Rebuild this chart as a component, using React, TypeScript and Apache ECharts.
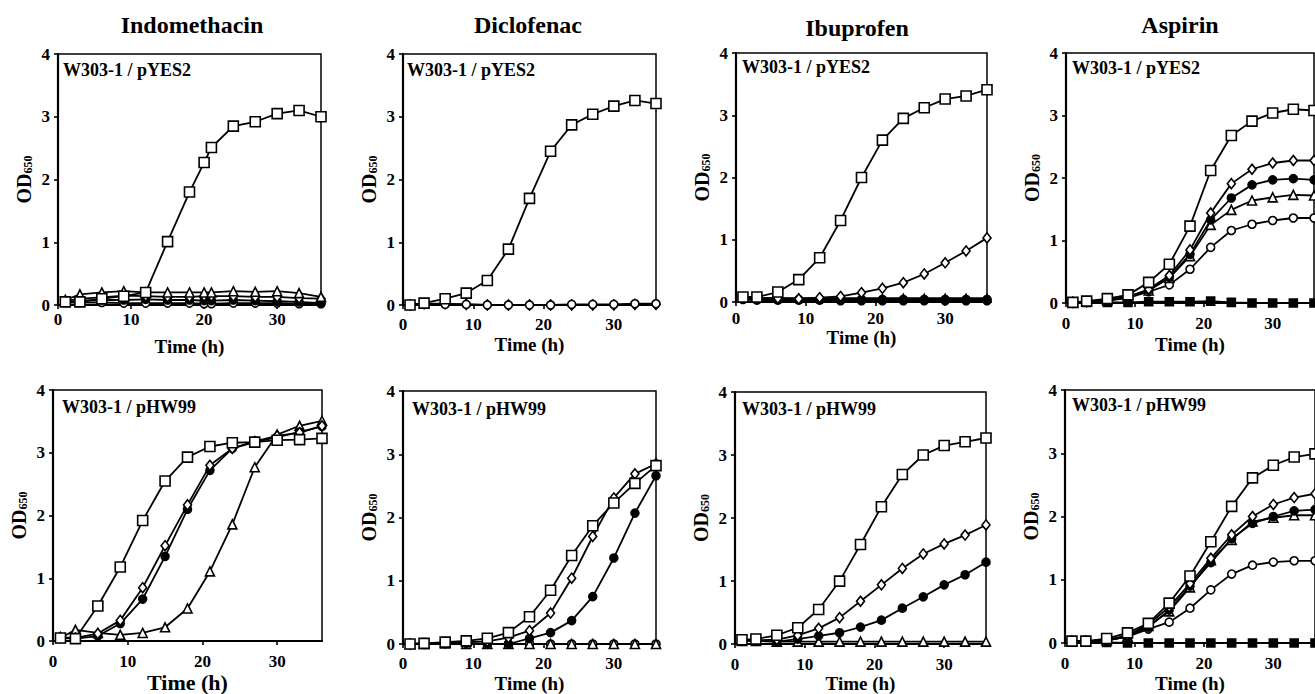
import { useEffect, useRef } from "react";
import * as echarts from "echarts";

// ---------- data ----------
const TIMES = [1, 3, 6, 9, 12, 15, 18, 21, 24, 27, 30, 33, 36];
const TIMES_INDO_YES = [1, 3, 6, 9, 12, 15, 18, 20, 21, 24, 27, 30, 33, 36];
const X_MIN = 0;
const X_MAX = 36;
const X_INTERVAL = 10;
const Y_MIN = 0;
const Y_MAX = 4;
const Y_INTERVAL = 1;

const DRUGS = ["Indomethacin", "Diclofenac", "Ibuprofen", "Aspirin"];
const STRAINS = ["W303-1 / pYES2", "W303-1 / pHW99"];
const X_NAME = "Time (h)";

// Indomethacin / pYES2
const indoYesSquare = [0.05, 0.05, 0.1, 0.14, 0.2, 1.01, 1.8, 2.27, 2.51, 2.85, 2.92, 3.05, 3.1, 3.0];
const indoYesTriangle = [0.08, 0.17, 0.2, 0.22, 0.2, 0.2, 0.2, 0.2, 0.2, 0.22, 0.21, 0.22, 0.19, 0.13];
const indoYesDiamond = [0.06, 0.1, 0.12, 0.15, 0.14, 0.13, 0.13, 0.14, 0.14, 0.14, 0.13, 0.13, 0.11, 0.1];
const indoYesDot = [0.05, 0.07, 0.08, 0.08, 0.09, 0.08, 0.08, 0.07, 0.07, 0.08, 0.07, 0.06, 0.05, 0.03];
const indoYesCircle = [0.04, 0.04, 0.04, 0.03, 0.03, 0.03, 0.03, 0.02, 0.02, 0.03, 0.03, 0.03, 0.02, 0.02];

// Diclofenac / pYES2
const dicloYesSquare = [0.0, 0.03, 0.1, 0.19, 0.39, 0.89, 1.7, 2.45, 2.87, 3.04, 3.17, 3.26, 3.21];
const dicloYesCircle = [0.0, 0.02, 0.01, 0.01, 0.0, 0.0, 0.0, 0.0, 0.01, 0.01, 0.01, 0.02, 0.02];
const dicloYesDiamond = [0.0, 0.02, 0.02, 0.01, 0.0, 0.0, 0.0, 0.0, 0.0, 0.0, 0.0, 0.01, 0.01];

// Ibuprofen / pYES2
const ibuYesSquare = [0.08, 0.08, 0.16, 0.36, 0.71, 1.31, 2.0, 2.6, 2.95, 3.12, 3.26, 3.31, 3.41];
const ibuYesDiamond = [0.07, 0.06, 0.06, 0.05, 0.07, 0.09, 0.15, 0.22, 0.31, 0.45, 0.63, 0.82, 1.03];
const ibuYesFilledTriangle = [0.06, 0.06, 0.06, 0.06, 0.06, 0.06, 0.06, 0.06, 0.06, 0.06, 0.06, 0.06, 0.06];
const ibuYesDot = [0.05, 0.05, 0.04, 0.04, 0.04, 0.04, 0.04, 0.04, 0.04, 0.04, 0.04, 0.04, 0.04];
const ibuYesCircle = [0.04, 0.03, 0.03, 0.03, 0.03, 0.02, 0.02, 0.02, 0.02, 0.02, 0.02, 0.02, 0.02];

// Aspirin / pYES2
const aspYesSquare = [0.01, 0.03, 0.07, 0.13, 0.33, 0.62, 1.23, 2.12, 2.68, 2.91, 3.04, 3.1, 3.08];
const aspYesDiamond = [0.01, 0.02, 0.04, 0.1, 0.22, 0.44, 0.85, 1.44, 1.91, 2.14, 2.24, 2.28, 2.28];
const aspYesDot = [0.01, 0.02, 0.04, 0.1, 0.21, 0.41, 0.78, 1.33, 1.68, 1.89, 1.97, 1.99, 1.97];
const aspYesTriangle = [0.01, 0.02, 0.04, 0.1, 0.2, 0.4, 0.75, 1.25, 1.49, 1.64, 1.69, 1.73, 1.72];
const aspYesCircle = [0.01, 0.02, 0.04, 0.08, 0.18, 0.29, 0.54, 0.89, 1.16, 1.26, 1.32, 1.36, 1.36];
const aspYesFilledSquare = [0.01, 0.01, 0.01, 0.01, 0.02, 0.02, 0.02, 0.03, 0.01, 0.0, 0.0, 0.0, 0.0];

// Indomethacin / pHW99
const indoHwSquare = [0.05, 0.04, 0.56, 1.18, 1.92, 2.55, 2.93, 3.1, 3.16, 3.17, 3.2, 3.21, 3.23];
const indoHwDiamond = [0.06, 0.05, 0.12, 0.33, 0.85, 1.52, 2.17, 2.8, 3.07, 3.18, 3.27, 3.32, 3.43];
const indoHwDot = [0.05, 0.04, 0.08, 0.28, 0.67, 1.35, 2.1, 2.72, 3.07, 3.17, 3.25, 3.33, 3.42];
const indoHwTriangle = [0.05, 0.18, 0.13, 0.1, 0.13, 0.22, 0.52, 1.11, 1.86, 2.77, 3.29, 3.43, 3.51];

// Diclofenac / pHW99
const dicloHwSquare = [0.0, 0.01, 0.03, 0.05, 0.09, 0.18, 0.43, 0.85, 1.4, 1.87, 2.23, 2.54, 2.82];
const dicloHwDiamond = [0.0, 0.01, 0.02, 0.03, 0.04, 0.1, 0.21, 0.49, 1.04, 1.7, 2.31, 2.69, 2.85];
const dicloHwDot = [0.0, 0.0, 0.01, 0.01, 0.0, 0.0, 0.09, 0.18, 0.37, 0.75, 1.36, 2.07, 2.66];
const dicloHwTriangle = [0.0, 0.0, 0.01, 0.0, 0.0, 0.0, 0.0, 0.0, 0.0, 0.0, 0.0, 0.0, 0.0];
const dicloHwCircle = [0.0, 0.01, 0.01, 0.01, 0.0, 0.0, 0.0, 0.0, 0.0, 0.0, 0.0, 0.0, 0.0];

// Ibuprofen / pHW99
const ibuHwSquare = [0.07, 0.08, 0.14, 0.26, 0.55, 1.0, 1.58, 2.18, 2.69, 3.0, 3.15, 3.21, 3.27];
const ibuHwDiamond = [0.06, 0.06, 0.07, 0.14, 0.25, 0.42, 0.68, 0.94, 1.2, 1.43, 1.59, 1.73, 1.89];
const ibuHwDot = [0.05, 0.05, 0.04, 0.08, 0.13, 0.18, 0.27, 0.38, 0.57, 0.75, 0.94, 1.1, 1.3];
const ibuHwTriangle = [0.05, 0.05, 0.04, 0.04, 0.04, 0.04, 0.04, 0.04, 0.04, 0.04, 0.04, 0.04, 0.04];

// Aspirin / pHW99
const aspHwSquare = [0.03, 0.03, 0.07, 0.16, 0.31, 0.63, 1.06, 1.6, 2.16, 2.61, 2.81, 2.94, 2.99];
const aspHwDiamond = [0.03, 0.03, 0.05, 0.12, 0.29, 0.57, 0.94, 1.34, 1.71, 2.0, 2.19, 2.3, 2.36];
const aspHwDot = [0.03, 0.03, 0.04, 0.1, 0.25, 0.52, 0.9, 1.27, 1.65, 1.89, 2.0, 2.09, 2.11];
const aspHwTriangle = [0.03, 0.03, 0.04, 0.1, 0.27, 0.5, 0.88, 1.31, 1.63, 1.92, 1.98, 2.02, 2.02];
const aspHwCircle = [0.03, 0.03, 0.04, 0.1, 0.22, 0.33, 0.55, 0.84, 1.09, 1.23, 1.28, 1.3, 1.3];
const aspHwFilledSquare = [0.02, 0.02, 0.01, 0.0, 0.0, 0.0, 0.0, 0.0, 0.0, 0.0, 0.0, 0.0, 0.0];

type Line = { marker: string; values: number[] };
type Panel = { times: number[]; lines: Line[] };

const PANELS: Panel[] = [
  {
    times: TIMES_INDO_YES,
    lines: [
      { marker: "circle", values: indoYesCircle },
      { marker: "dot", values: indoYesDot },
      { marker: "diamond", values: indoYesDiamond },
      { marker: "triangle", values: indoYesTriangle },
      { marker: "square", values: indoYesSquare },
    ],
  },
  {
    times: TIMES,
    lines: [
      { marker: "diamond", values: dicloYesDiamond },
      { marker: "circle", values: dicloYesCircle },
      { marker: "square", values: dicloYesSquare },
    ],
  },
  {
    times: TIMES,
    lines: [
      { marker: "circle", values: ibuYesCircle },
      { marker: "dot", values: ibuYesDot },
      { marker: "filledTriangle", values: ibuYesFilledTriangle },
      { marker: "diamond", values: ibuYesDiamond },
      { marker: "square", values: ibuYesSquare },
    ],
  },
  {
    times: TIMES,
    lines: [
      { marker: "filledSquare", values: aspYesFilledSquare },
      { marker: "circle", values: aspYesCircle },
      { marker: "triangle", values: aspYesTriangle },
      { marker: "dot", values: aspYesDot },
      { marker: "diamond", values: aspYesDiamond },
      { marker: "square", values: aspYesSquare },
    ],
  },
  {
    times: TIMES,
    lines: [
      { marker: "triangle", values: indoHwTriangle },
      { marker: "dot", values: indoHwDot },
      { marker: "diamond", values: indoHwDiamond },
      { marker: "square", values: indoHwSquare },
    ],
  },
  {
    times: TIMES,
    lines: [
      { marker: "circle", values: dicloHwCircle },
      { marker: "triangle", values: dicloHwTriangle },
      { marker: "dot", values: dicloHwDot },
      { marker: "diamond", values: dicloHwDiamond },
      { marker: "square", values: dicloHwSquare },
    ],
  },
  {
    times: TIMES,
    lines: [
      { marker: "triangle", values: ibuHwTriangle },
      { marker: "dot", values: ibuHwDot },
      { marker: "diamond", values: ibuHwDiamond },
      { marker: "square", values: ibuHwSquare },
    ],
  },
  {
    times: TIMES,
    lines: [
      { marker: "filledSquare", values: aspHwFilledSquare },
      { marker: "circle", values: aspHwCircle },
      { marker: "triangle", values: aspHwTriangle },
      { marker: "dot", values: aspHwDot },
      { marker: "diamond", values: aspHwDiamond },
      { marker: "square", values: aspHwSquare },
    ],
  },
];

// ---------- styles / layout ----------
const FONT = "'Liberation Serif', 'Times New Roman', serif";

const MARKERS: Record<string, { symbol: string; size: number | number[]; fill: string }> = {
  square: { symbol: "rect", size: 10, fill: "#fff" },
  diamond: { symbol: "diamond", size: [8, 10], fill: "#fff" },
  dot: { symbol: "circle", size: 8, fill: "#000" },
  triangle: { symbol: "triangle", size: 9, fill: "#fff" },
  circle: { symbol: "circle", size: 8, fill: "#fff" },
  filledSquare: { symbol: "rect", size: 8, fill: "#000" },
  filledTriangle: { symbol: "triangle", size: 8, fill: "#000" },
};

const LAYOUT = [
  { left: 58, top: 54, width: 263, height: 251, xGap: 32, xMargin: 6, yGap: 24, xNameSize: 19 },
  { left: 403, top: 54, width: 253, height: 251, xGap: 30, xMargin: 11, yGap: 24, xNameSize: 19 },
  { left: 736, top: 53, width: 251, height: 249, xGap: 14, xMargin: 8, yGap: 24, xNameSize: 19 },
  { left: 1066, top: 53, width: 248, height: 250, xGap: 32, xMargin: 12, yGap: 24, xNameSize: 19 },
  { left: 53, top: 390, width: 269, height: 259, xGap: 24, xMargin: 12, yGap: 24, xNameSize: 22 },
  { left: 403, top: 391, width: 253, height: 253, xGap: 30, xMargin: 11, yGap: 24, xNameSize: 19 },
  { left: 735, top: 392, width: 251, height: 254, xGap: 21, xMargin: 12, yGap: 24, xNameSize: 19 },
  { left: 1065, top: 390, width: 250, height: 254, xGap: 31, xMargin: 12, yGap: 24, xNameSize: 19 },
];

const TITLE_POS = [
  { x: 192, y: 25 },
  { x: 528, y: 25 },
  { x: 857, y: 28 },
  { x: 1180, y: 25 },
];

const STRAIN_OFFSET = [
  { dx: 5, dy: 16 },
  { dx: 4, dy: 16 },
  { dx: 6, dy: 14 },
  { dx: 6, dy: 15 },
  { dx: 9, dy: 17 },
  { dx: 9, dy: 18 },
  { dx: 7, dy: 17 },
  { dx: 7, dy: 15 },
];

function buildOption() {
  const grid: any[] = [];
  const xAxis: any[] = [];
  const yAxis: any[] = [];
  const series: any[] = [];
  const graphic: any[] = [];

  PANELS.forEach((panel, i) => {
    const L = LAYOUT[i];
    grid.push({
      left: L.left,
      top: L.top,
      width: L.width,
      height: L.height,
      show: true,
      borderColor: "#000",
      borderWidth: 1.5,
      backgroundColor: "transparent",
    });
    xAxis.push({
      type: "value",
      gridIndex: i,
      min: X_MIN,
      max: X_MAX,
      interval: X_INTERVAL,
      name: X_NAME,
      nameLocation: "middle",
      nameGap: L.xGap,
      nameTextStyle: { fontFamily: FONT, fontWeight: "bold", fontSize: L.xNameSize, color: "#000" },
      axisLine: { show: true, onZero: false, lineStyle: { color: "#000", width: 2.2 } },
      axisTick: { show: true, inside: false, length: 4, lineStyle: { color: "#000", width: 1.6 } },
      axisLabel: {
        fontFamily: FONT,
        fontWeight: "bold",
        fontSize: 17,
        color: "#000",
        margin: L.xMargin,
        showMaxLabel: false,
      },
      splitLine: { show: false },
    });
    yAxis.push({
      type: "value",
      gridIndex: i,
      min: Y_MIN,
      max: Y_MAX,
      interval: Y_INTERVAL,
      name: "{a|OD}{b|650}",
      nameLocation: "middle",
      nameRotate: 90,
      nameGap: L.yGap,
      nameTextStyle: {
        color: "#000",
        rich: {
          a: { fontFamily: FONT, fontWeight: "bold", fontSize: 20, color: "#000" },
          b: { fontFamily: FONT, fontWeight: "bold", fontSize: 12, color: "#000", padding: [9, 0, 0, 0] },
        },
      },
      axisLine: { show: true, onZero: false, lineStyle: { color: "#000", width: 2.2 } },
      axisTick: { show: true, inside: false, length: 4, lineStyle: { color: "#000", width: 1.6 } },
      axisLabel: { fontFamily: FONT, fontWeight: "bold", fontSize: 17, color: "#000", margin: 8 },
      splitLine: { show: false },
    });

    panel.lines.forEach((line) => {
      const m = MARKERS[line.marker];
      series.push({
        type: "line",
        xAxisIndex: i,
        yAxisIndex: i,
        data: panel.times.map((t, k) => [t, line.values[k]]),
        symbol: m.symbol,
        symbolSize: m.size,
        showSymbol: true,
        clip: false,
        silent: true,
        itemStyle: { color: m.fill, borderColor: "#000", borderWidth: 1.6 },
        lineStyle: { color: "#000", width: 1.8 },
      });
    });

    const off = STRAIN_OFFSET[i];
    graphic.push({
      type: "text",
      x: L.left + off.dx,
      y: L.top + off.dy,
      style: {
        text: STRAINS[i < 4 ? 0 : 1],
        font: `bold 18px ${FONT}`,
        fill: "#000",
        textAlign: "left",
        textVerticalAlign: "middle",
      },
    });
  });

  DRUGS.forEach((d, j) => {
    graphic.push({
      type: "text",
      x: TITLE_POS[j].x,
      y: TITLE_POS[j].y,
      style: {
        text: d,
        font: `bold 24px ${FONT}`,
        fill: "#000",
        textAlign: "center",
        textVerticalAlign: "middle",
      },
    });
  });

  return {
    animation: false,
    backgroundColor: "#fff",
    grid,
    xAxis,
    yAxis,
    series,
    graphic,
  };
}

export default function App() {
  const ref = useRef<HTMLDivElement | null>(null);
  useEffect(() => {
    if (!ref.current) return;
    const chart = echarts.init(ref.current, undefined, { renderer: "svg" });
    chart.setOption(buildOption() as any);
    return () => chart.dispose();
  }, []);
  return (
    <div
      ref={ref}
      style={{ position: "absolute", left: 0, top: 0, width: 1315, height: 694, background: "#fff" }}
    />
  );
}
